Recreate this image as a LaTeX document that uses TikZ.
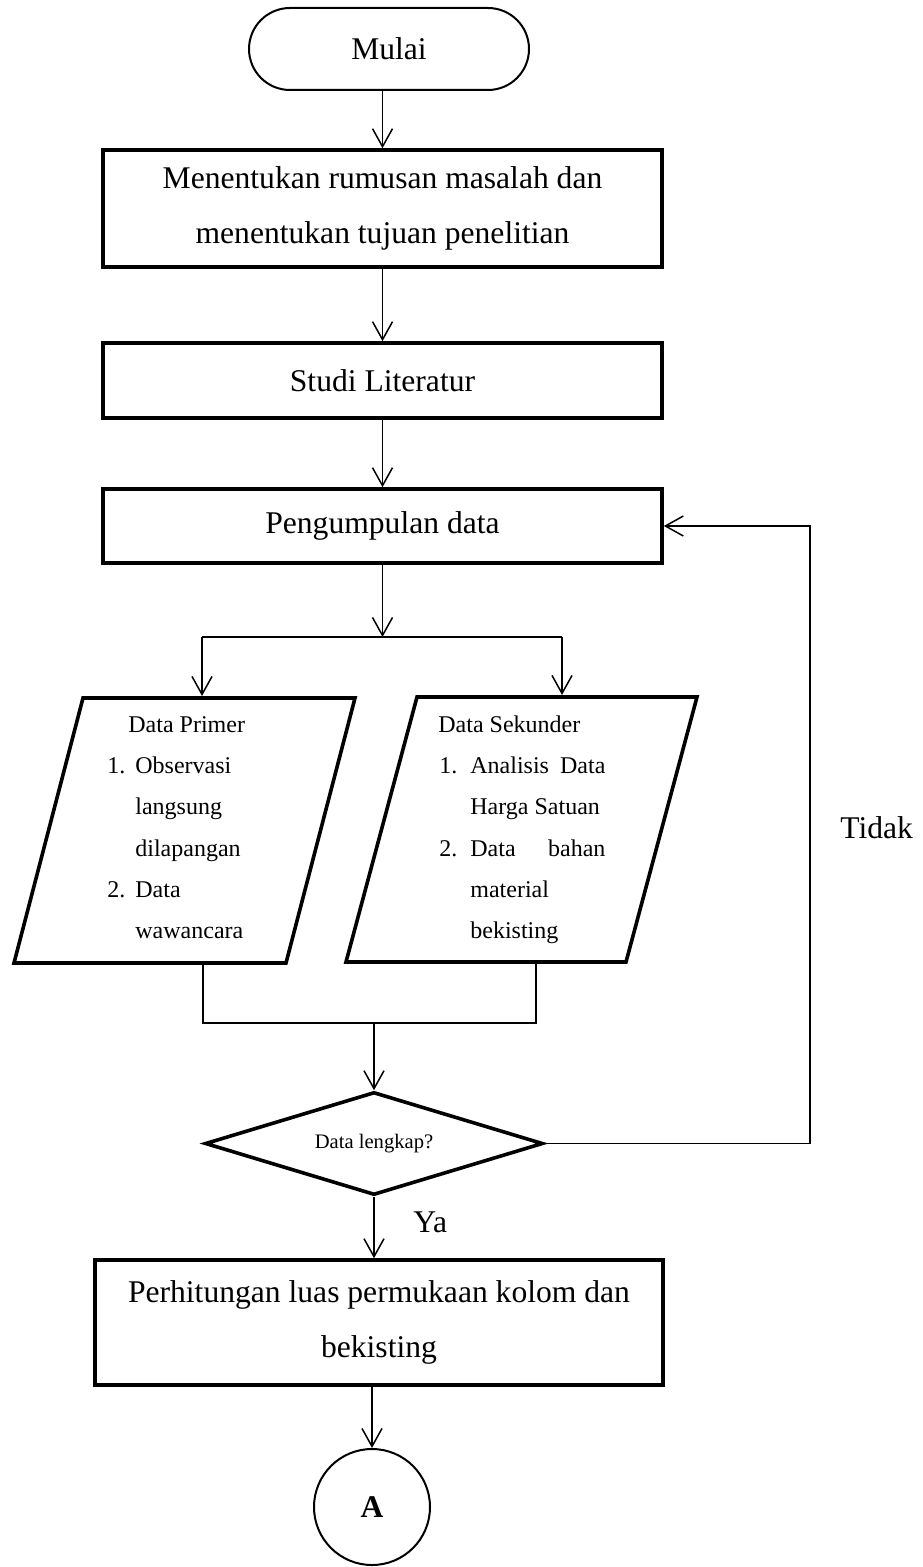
\documentclass[tikz,border=0pt]{standalone}
\usepackage{fontspec}
\setmainfont{Liberation Serif}
\usetikzlibrary{arrows.meta,shapes.geometric}
\newcommand\fbig{\fontsize{15.8pt}{27.5pt}\selectfont}
\newcommand\fsml{\fontsize{12pt}{20.5pt}\selectfont}
\newcommand\fdia{\fontsize{10.3pt}{12pt}\selectfont}
\begin{document}
\begin{tikzpicture}[x=0.5pt,y=-0.5pt,
  conn/.style={line width=0.75pt},
  arr/.style={conn,-{Straight Barb[length=9pt,width=10pt]}},
  procbox/.style={draw,line width=1.8pt,minimum width=279.5pt,align=center,font=\fbig,inner sep=0pt},
  iobox/.style={line width=1.8pt,line join=miter},
  ptxt/.style={anchor=base west,inner sep=0pt,font=\fsml},
  lbl/.style={anchor=base west,inner sep=0pt,font=\fbig}]

\useasboundingbox (0,0) rectangle (922,1567);

% terminal and process boxes
\node[draw,line width=1pt,rounded corners=20.5pt,minimum width=140pt,minimum height=41pt,font=\fbig] (start) at (389,49) {Mulai};
\node[procbox,minimum height=58.5pt] (b1) at (382.5,208.5) {Menentukan rumusan masalah dan\\menentukan tujuan penelitian};
\node[procbox,minimum height=37.5pt] (b2) at (382.5,380.5) {Studi Literatur};
\node[procbox,minimum height=37pt] (b3) at (382.5,526) {Pengumpulan data};

\draw[arr] (b1.north |- start.south) -- (b1.north);
\draw[arr] (b1) -- (b2);
\draw[arr] (b2) -- (b3);

% split
\coordinate (sL) at (202,637);
\coordinate (sR) at (562,637);
\coordinate (pLin) at (202,696);
\coordinate (pRin) at (562,695);
\draw[arr] (b3.south) -- (b3.south |- sL);
\draw[conn] (sL) -- (sR);
\draw[arr] (sL) -- (pLin);
\draw[arr] (sR) -- (pRin);

% parallelograms
\coordinate (L1) at (83,698);
\coordinate (L2) at (355,698);
\coordinate (L3) at (286,963);
\coordinate (L4) at (14,963);
\draw[iobox] (L1) -- (L2) -- (L3) -- (L4) -- cycle;
\coordinate (R1) at (417,697);
\coordinate (R2) at (697,697);
\coordinate (R3) at (626,962);
\coordinate (R4) at (346,962);
\draw[iobox] (R1) -- (R2) -- (R3) -- (R4) -- cycle;

\node[ptxt] (lp0) at (128,732) {Data Primer};
\node[ptxt] (lp1n) at (107,773) {1.};
\node[ptxt] (lp1) at (135,773) {Observasi};
\node[ptxt] (lp2) at (135,814) {langsung};
\node[ptxt] (lp3) at (135,856) {dilapangan};
\node[ptxt] (lp4n) at (107,897) {2.};
\node[ptxt] (lp4) at (135,897) {Data};
\node[ptxt] (lp5) at (135,938) {wawancara};

\node[ptxt] (rp0) at (438,732) {Data Sekunder};
\node[ptxt] (rp1n) at (439,773) {1.};
\node[ptxt] (rp1) at (470,773) {\makebox[67.5pt][s]{Analisis Data}};
\node[ptxt] (rp2) at (470,814) {Harga Satuan};
\node[ptxt] (rp3n) at (439,856) {2.};
\node[ptxt] (rp3) at (470,856) {\makebox[67.5pt][s]{Data bahan}};
\node[ptxt] (rp4) at (470,897) {material};
\node[ptxt] (rp5) at (470,938) {bekisting};

% merge
\coordinate (pLout) at (203,963);
\coordinate (pRout) at (536,962);
\coordinate (mL) at (203,1023);
\coordinate (mR) at (536,1023);
\draw[conn] (pLout) -- (mL) -- (mR) -- (pRout);

% decision
\node[diamond,draw,line width=1.8pt,aspect=3.28,minimum width=169pt,minimum height=51.5pt,inner sep=0pt,font=\fdia] (dia) at (374,1143.5) {Data lengkap?};
\draw[arr] (dia.north |- mL) -- (dia.north);

% feedback
\coordinate (fb) at (810,1142);
\draw[arr] (dia.east) -- (dia.east -| fb) -- (b3.east -| fb) -- (b3.east);
\node[lbl] (tidak) at (840,838) {Tidak};
\node[lbl] (ya) at (413,1232) {Ya};

% final
\node[procbox,minimum width=284pt,minimum height=62.5pt] (b4) at (379,1322.5) {Perhitungan luas permukaan kolom dan\\bekisting};
\draw[arr] (dia.south) -- (dia.south |- b4.north);
\node[draw,circle,line width=1pt,minimum size=58pt,inner sep=0pt,font=\fbig\bfseries] (circA) at (372,1507) {A};
\draw[arr] (circA.north |- b4.south) -- (circA.north);
\end{tikzpicture}
\end{document}
